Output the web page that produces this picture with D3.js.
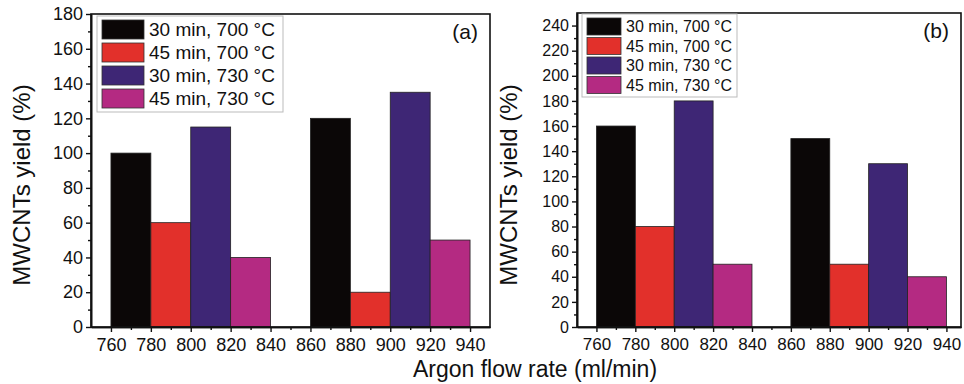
<!DOCTYPE html>
<html>
<head>
<meta charset="utf-8">
<script src="https://cdn.jsdelivr.net/npm/d3@7"></script>
<style>
  body { margin: 0; background: #fff; }
  svg { display: block; font-family: Arial, "Liberation Sans", sans-serif; }
  .frame { fill: none; stroke: #111; stroke-width: 1.6; }
  .axis path { stroke: #111; stroke-width: 1.6; }
  .axis line { stroke: #111; stroke-width: 1.4; }
</style>
</head>
<body>
<div id="chart"></div>
<script>
// series names and colours
var seriesNames = ["30 min, 700 \u00B0C", "45 min, 700 \u00B0C", "30 min, 730 \u00B0C", "45 min, 730 \u00B0C"];
var seriesColors = ["#0b0707", "#e2302b", "#3e2675", "#b42a82"];

// two flow-rate groups, each bar 20 ml/min wide
var groupStarts = [760, 860];
var barWidth = 20;

// panel (a) yields
var yieldA = [
    [100, 120],   // 30 min, 700
    [60, 20],     // 45 min, 700
    [115, 135],   // 30 min, 730
    [40, 50]      // 45 min, 730
];
// panel (b) yields
var yieldB = [
    [160, 150],
    [80, 50],
    [180, 130],
    [50, 40]
];

var xTicks = [760, 780, 800, 820, 840, 860, 880, 900, 920, 940];
var yTicksA = [0, 20, 40, 60, 80, 100, 120, 140, 160, 180];
var yTicksB = [0, 20, 40, 60, 80, 100, 120, 140, 160, 180, 200, 220, 240];

var w = 964, h = 384;
var svg = d3.select("#chart").append("svg")
            .attr("width", w)
            .attr("height", h);

function drawPanel(p) {
    var x = d3.scaleLinear().domain(p.xDomain).range([p.left, p.right]);
    var y = d3.scaleLinear().domain(p.yDomain).range([p.bottom, p.top]);
    var g = svg.append("g");

    // bars
    p.data.forEach(function(vals, si) {
        g.selectAll(null)
         .data(vals)
         .enter().append("rect")
         .attr("x", (d, i) => x(groupStarts[i] + si * barWidth))
         .attr("y", d => y(d))
         .attr("width", (d, i) => x(groupStarts[i] + (si + 1) * barWidth) - x(groupStarts[i] + si * barWidth))
         .attr("height", d => y(0) - y(d))
         .attr("fill", seriesColors[si])
         .attr("stroke", "#222")
         .attr("stroke-width", 0.8);
    });

    // frame
    g.append("rect").attr("class", "frame")
     .attr("x", p.left).attr("y", p.top)
     .attr("width", p.right - p.left).attr("height", p.bottom - p.top);

    // x axis, major + minor
    var minorX = xTicks.map(v => v + 10).filter(v => v < p.xDomain[1]);
    g.append("g").attr("class", "axis")
     .attr("transform", "translate(0," + p.bottom + ")")
     .call(d3.axisBottom(x).tickValues(minorX).tickFormat("").tickSize(3).tickSizeOuter(0));
    var xAxis = g.append("g").attr("class", "axis")
     .attr("transform", "translate(0," + p.bottom + ")")
     .call(d3.axisBottom(x).tickValues(xTicks).tickSize(5).tickSizeOuter(0).tickPadding(6));
    xAxis.selectAll("text").style("font-size", p.xFont + "px").attr("fill", "#111");

    // y axis, major + minor
    var minorY = p.yTicks.map(v => v + 10).filter(v => v < p.yDomain[1]);
    g.append("g").attr("class", "axis")
     .attr("transform", "translate(" + p.left + ",0)")
     .call(d3.axisLeft(y).tickValues(minorY).tickFormat("").tickSize(3).tickSizeOuter(0));
    var yAxis = g.append("g").attr("class", "axis")
     .attr("transform", "translate(" + p.left + ",0)")
     .call(d3.axisLeft(y).tickValues(p.yTicks).tickSize(5).tickSizeOuter(0).tickPadding(3));
    yAxis.selectAll("text").style("font-size", p.yFont + "px").attr("fill", "#111");

    // y title
    g.append("text")
     .attr("transform", "translate(" + p.yTitleX + ",185) rotate(-90)")
     .attr("text-anchor", "middle")
     .attr("dy", "0.35em")
     .style("font-size", "24px")
     .attr("fill", "#111")
     .text("MWCNTs yield (%)");

    // panel letter
    g.append("text")
     .attr("x", p.right - 12).attr("y", p.top + 25)
     .attr("text-anchor", "end")
     .style("font-size", "21px")
     .attr("fill", "#111")
     .text(p.letter);

    // legend
    var L = p.legend;
    g.append("rect")
     .attr("x", L.x).attr("y", L.y)
     .attr("width", L.w).attr("height", L.h)
     .attr("fill", "#fff").attr("stroke", "#bbb").attr("stroke-width", 1);
    seriesNames.forEach(function(name, i) {
        var ry = L.y + 4 + i * L.step;
        g.append("rect")
         .attr("x", L.x + 5).attr("y", ry)
         .attr("width", L.sw).attr("height", L.sh)
         .attr("fill", seriesColors[i]).attr("stroke", "#333").attr("stroke-width", 0.8);
        g.append("text")
         .attr("x", L.x + 10 + L.sw).attr("y", ry + L.sh / 2)
         .attr("dy", "0.35em")
         .style("font-size", L.font + "px")
         .attr("fill", "#111")
         .text(name);
    });
}

drawPanel({
    data: yieldA, letter: "(a)",
    xDomain: [750, 950], yDomain: [0, 180], yTicks: yTicksA,
    left: 91, right: 490, top: 14, bottom: 327,
    xFont: 18, yFont: 18, yTitleX: 22,
    legend: { x: 97, y: 16, w: 186, h: 96, step: 23, sw: 42, sh: 19, font: 19 }
});

drawPanel({
    data: yieldB, letter: "(b)",
    xDomain: [750, 947.5], yDomain: [0, 250], yTicks: yTicksB,
    left: 577, right: 961, top: 13, bottom: 327,
    xFont: 17, yFont: 16, yTitleX: 509,
    legend: { x: 582, y: 14, w: 155, h: 83, step: 19.5, sw: 34, sh: 17, font: 16 }
});

// shared x title
svg.append("text")
   .attr("x", 535).attr("y", 377)
   .attr("text-anchor", "middle")
   .style("font-size", "23px")
   .attr("fill", "#111")
   .text("Argon flow rate (ml/min)");
</script>
</body>
</html>
